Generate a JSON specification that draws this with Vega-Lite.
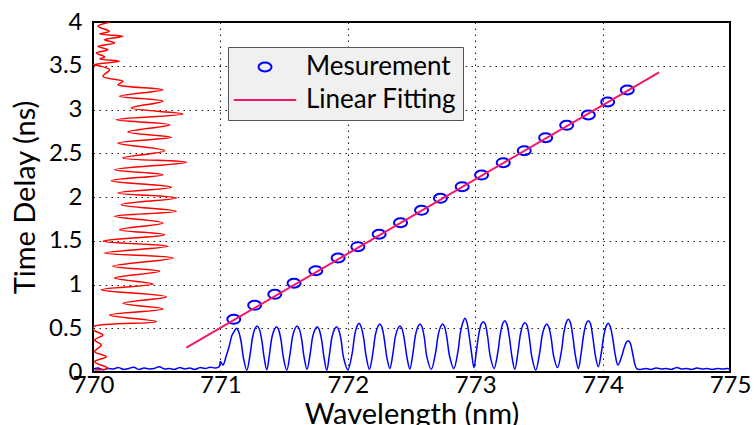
{
  "$schema": "https://vega.github.io/schema/vega-lite/v6.json",
  "width": 637,
  "height": 350,
  "autosize": {"type": "none"},
  "padding": {"left": 93, "top": 22, "right": 24, "bottom": 53},
  "background": "white",
  "config": {
    "font": "Lato",
    "view": {"stroke": "#000", "strokeWidth": 2},
    "axis": {
      "domain": false, "ticks": false, "grid": true,
      "gridColor": "#000", "gridDash": [1.5, 4.5], "gridWidth": 1, "gridOpacity": 0.9,
      "labelFont": "Lato", "labelFontSize": 24, "labelColor": "#000", "labelFlush": false,
      "titleFont": "Lato", "titleFontSize": 29, "titleFontWeight": "normal", "titleColor": "#000"
    }
  },
  "datasets": {
    "spec": [
      {"wl": 770.00, "td": 0.03}, {"wl": 770.04, "td": 0.045}, {"wl": 770.08, "td": 0.025}, {"wl": 770.12, "td": 0.04},
      {"wl": 770.16, "td": 0.035}, {"wl": 770.20, "td": 0.05}, {"wl": 770.24, "td": 0.03}, {"wl": 770.28, "td": 0.04},
      {"wl": 770.32, "td": 0.055}, {"wl": 770.36, "td": 0.03}, {"wl": 770.40, "td": 0.045}, {"wl": 770.44, "td": 0.035},
      {"wl": 770.48, "td": 0.04}, {"wl": 770.52, "td": 0.06}, {"wl": 770.56, "td": 0.035}, {"wl": 770.60, "td": 0.04},
      {"wl": 770.64, "td": 0.03}, {"wl": 770.68, "td": 0.05}, {"wl": 770.72, "td": 0.035}, {"wl": 770.76, "td": 0.045},
      {"wl": 770.80, "td": 0.03}, {"wl": 770.84, "td": 0.05}, {"wl": 770.88, "td": 0.04}, {"wl": 770.92, "td": 0.055},
      {"wl": 770.96, "td": 0.045}, {"wl": 770.99, "td": 0.06},
      {"wl": 771.00, "td": 0.12}, {"wl": 771.02, "td": 0.08}, {"wl": 771.045, "td": 0.18}, {"wl": 771.07, "td": 0.30},
      {"wl": 771.091, "td": 0.42}, {"wl": 771.111, "td": 0.47}, {"wl": 771.126, "td": 0.50}, {"wl": 771.141, "td": 0.47},
      {"wl": 771.161, "td": 0.36}, {"wl": 771.181, "td": 0.16}, {"wl": 771.207, "td": 0.02},
      {"wl": 771.233, "td": 0.20}, {"wl": 771.253, "td": 0.40}, {"wl": 771.273, "td": 0.50}, {"wl": 771.288, "td": 0.526},
      {"wl": 771.303, "td": 0.50}, {"wl": 771.323, "td": 0.38}, {"wl": 771.343, "td": 0.17}, {"wl": 771.364, "td": 0.025},
      {"wl": 771.385, "td": 0.20}, {"wl": 771.405, "td": 0.40}, {"wl": 771.425, "td": 0.49}, {"wl": 771.44, "td": 0.518},
      {"wl": 771.455, "td": 0.49}, {"wl": 771.475, "td": 0.37}, {"wl": 771.495, "td": 0.16}, {"wl": 771.521, "td": 0.02},
      {"wl": 771.547, "td": 0.21}, {"wl": 771.567, "td": 0.41}, {"wl": 771.587, "td": 0.50}, {"wl": 771.602, "td": 0.526},
      {"wl": 771.617, "td": 0.50}, {"wl": 771.637, "td": 0.38}, {"wl": 771.657, "td": 0.17}, {"wl": 771.68, "td": 0.03},
      {"wl": 771.704, "td": 0.20}, {"wl": 771.724, "td": 0.40}, {"wl": 771.744, "td": 0.49}, {"wl": 771.759, "td": 0.518},
      {"wl": 771.774, "td": 0.49}, {"wl": 771.794, "td": 0.37}, {"wl": 771.814, "td": 0.16}, {"wl": 771.835, "td": 0.02},
      {"wl": 771.856, "td": 0.20}, {"wl": 771.876, "td": 0.40}, {"wl": 771.896, "td": 0.49}, {"wl": 771.911, "td": 0.518},
      {"wl": 771.926, "td": 0.49}, {"wl": 771.946, "td": 0.38}, {"wl": 771.966, "td": 0.17}, {"wl": 772.000, "td": 0.025},
      {"wl": 772.034, "td": 0.21}, {"wl": 772.054, "td": 0.42}, {"wl": 772.074, "td": 0.53}, {"wl": 772.089, "td": 0.556},
      {"wl": 772.104, "td": 0.52}, {"wl": 772.124, "td": 0.39}, {"wl": 772.144, "td": 0.18}, {"wl": 772.17, "td": 0.03},
      {"wl": 772.196, "td": 0.21}, {"wl": 772.216, "td": 0.42}, {"wl": 772.236, "td": 0.52}, {"wl": 772.251, "td": 0.549},
      {"wl": 772.266, "td": 0.52}, {"wl": 772.286, "td": 0.38}, {"wl": 772.306, "td": 0.17}, {"wl": 772.33, "td": 0.04},
      {"wl": 772.354, "td": 0.21}, {"wl": 772.374, "td": 0.41}, {"wl": 772.394, "td": 0.50}, {"wl": 772.409, "td": 0.526},
      {"wl": 772.424, "td": 0.50}, {"wl": 772.444, "td": 0.37}, {"wl": 772.464, "td": 0.17}, {"wl": 772.487, "td": 0.035},
      {"wl": 772.511, "td": 0.21}, {"wl": 772.531, "td": 0.42}, {"wl": 772.551, "td": 0.52}, {"wl": 772.566, "td": 0.549},
      {"wl": 772.581, "td": 0.52}, {"wl": 772.601, "td": 0.39}, {"wl": 772.621, "td": 0.17}, {"wl": 772.655, "td": 0.03},
      {"wl": 772.689, "td": 0.22}, {"wl": 772.709, "td": 0.42}, {"wl": 772.729, "td": 0.52}, {"wl": 772.744, "td": 0.549},
      {"wl": 772.759, "td": 0.52}, {"wl": 772.779, "td": 0.38}, {"wl": 772.799, "td": 0.18}, {"wl": 772.832, "td": 0.04},
      {"wl": 772.864, "td": 0.23}, {"wl": 772.884, "td": 0.45}, {"wl": 772.904, "td": 0.57}, {"wl": 772.919, "td": 0.613},
      {"wl": 772.934, "td": 0.57}, {"wl": 772.954, "td": 0.40}, {"wl": 772.974, "td": 0.19}, {"wl": 772.99, "td": 0.05},
      {"wl": 773.008, "td": 0.22}, {"wl": 773.028, "td": 0.43}, {"wl": 773.048, "td": 0.55}, {"wl": 773.063, "td": 0.575},
      {"wl": 773.078, "td": 0.55}, {"wl": 773.098, "td": 0.40}, {"wl": 773.118, "td": 0.18}, {"wl": 773.148, "td": 0.04},
      {"wl": 773.178, "td": 0.23}, {"wl": 773.198, "td": 0.44}, {"wl": 773.218, "td": 0.56}, {"wl": 773.233, "td": 0.587},
      {"wl": 773.248, "td": 0.55}, {"wl": 773.268, "td": 0.40}, {"wl": 773.288, "td": 0.18}, {"wl": 773.311, "td": 0.03},
      {"wl": 773.335, "td": 0.22}, {"wl": 773.355, "td": 0.43}, {"wl": 773.375, "td": 0.54}, {"wl": 773.39, "td": 0.564},
      {"wl": 773.405, "td": 0.54}, {"wl": 773.425, "td": 0.39}, {"wl": 773.445, "td": 0.17}, {"wl": 773.475, "td": 0.02},
      {"wl": 773.506, "td": 0.22}, {"wl": 773.526, "td": 0.42}, {"wl": 773.546, "td": 0.52}, {"wl": 773.561, "td": 0.549},
      {"wl": 773.576, "td": 0.52}, {"wl": 773.596, "td": 0.39}, {"wl": 773.616, "td": 0.18}, {"wl": 773.646, "td": 0.05},
      {"wl": 773.676, "td": 0.23}, {"wl": 773.696, "td": 0.45}, {"wl": 773.716, "td": 0.57}, {"wl": 773.731, "td": 0.602},
      {"wl": 773.746, "td": 0.57}, {"wl": 773.766, "td": 0.41}, {"wl": 773.786, "td": 0.19}, {"wl": 773.81, "td": 0.04},
      {"wl": 773.833, "td": 0.23}, {"wl": 773.853, "td": 0.44}, {"wl": 773.873, "td": 0.56}, {"wl": 773.888, "td": 0.587},
      {"wl": 773.903, "td": 0.56}, {"wl": 773.923, "td": 0.40}, {"wl": 773.943, "td": 0.19}, {"wl": 773.966, "td": 0.06},
      {"wl": 773.990, "td": 0.22}, {"wl": 774.010, "td": 0.42}, {"wl": 774.030, "td": 0.53}, {"wl": 774.045, "td": 0.556},
      {"wl": 774.060, "td": 0.52}, {"wl": 774.080, "td": 0.38}, {"wl": 774.100, "td": 0.19}, {"wl": 774.12, "td": 0.08},
      {"wl": 774.150, "td": 0.18}, {"wl": 774.170, "td": 0.28}, {"wl": 774.187, "td": 0.34}, {"wl": 774.202, "td": 0.358},
      {"wl": 774.217, "td": 0.33}, {"wl": 774.235, "td": 0.22}, {"wl": 774.255, "td": 0.08}, {"wl": 774.27, "td": 0.035},
      {"wl": 774.30, "td": 0.03}, {"wl": 774.34, "td": 0.04}, {"wl": 774.38, "td": 0.03}, {"wl": 774.42, "td": 0.045},
      {"wl": 774.46, "td": 0.035}, {"wl": 774.50, "td": 0.04}, {"wl": 774.54, "td": 0.03}, {"wl": 774.58, "td": 0.05},
      {"wl": 774.62, "td": 0.035}, {"wl": 774.66, "td": 0.04}, {"wl": 774.70, "td": 0.03}, {"wl": 774.74, "td": 0.045},
      {"wl": 774.78, "td": 0.035}, {"wl": 774.82, "td": 0.04}, {"wl": 774.86, "td": 0.03}, {"wl": 774.90, "td": 0.04},
      {"wl": 774.94, "td": 0.035}, {"wl": 774.98, "td": 0.04}, {"wl": 775.0, "td": 0.035}
    ],
    "pulse": [
      {"i": 1, "wl": 770.013, "td": 0.023}, {"i": 2, "wl": 770.117, "td": 0.042}, {"i": 3, "wl": 770.013, "td": 0.118},
      {"i": 4, "wl": 770.104, "td": 0.175}, {"i": 5, "wl": 770.013, "td": 0.232}, {"i": 6, "wl": 770.065, "td": 0.309},
      {"i": 7, "wl": 770.013, "td": 0.366}, {"i": 8, "wl": 770.078, "td": 0.423}, {"i": 9, "wl": 770.005, "td": 0.48},
      {"i": 10, "wl": 770.001, "td": 0.518}, {"i": 11, "wl": 770.497, "td": 0.575}, {"i": 12, "wl": 770.130, "td": 0.651},
      {"i": 13, "wl": 770.549, "td": 0.72}, {"i": 14, "wl": 770.235, "td": 0.785}, {"i": 15, "wl": 770.576, "td": 0.861},
      {"i": 16, "wl": 770.065, "td": 0.941}, {"i": 17, "wl": 770.471, "td": 1.006}, {"i": 18, "wl": 770.170, "td": 1.074},
      {"i": 19, "wl": 770.523, "td": 1.151}, {"i": 20, "wl": 770.156, "td": 1.208}, {"i": 21, "wl": 770.628, "td": 1.303},
      {"i": 22, "wl": 770.091, "td": 1.36}, {"i": 23, "wl": 770.588, "td": 1.437}, {"i": 24, "wl": 770.078, "td": 1.494},
      {"i": 25, "wl": 770.562, "td": 1.569}, {"i": 26, "wl": 770.209, "td": 1.626}, {"i": 27, "wl": 770.549, "td": 1.703},
      {"i": 28, "wl": 770.170, "td": 1.779}, {"i": 29, "wl": 770.654, "td": 1.837}, {"i": 30, "wl": 770.222, "td": 1.912},
      {"i": 31, "wl": 770.654, "td": 1.989}, {"i": 32, "wl": 770.196, "td": 2.046}, {"i": 33, "wl": 770.615, "td": 2.111},
      {"i": 34, "wl": 770.144, "td": 2.186}, {"i": 35, "wl": 770.549, "td": 2.255}, {"i": 36, "wl": 770.170, "td": 2.312},
      {"i": 37, "wl": 770.733, "td": 2.397}, {"i": 38, "wl": 770.235, "td": 2.446}, {"i": 39, "wl": 770.562, "td": 2.529},
      {"i": 40, "wl": 770.196, "td": 2.617}, {"i": 41, "wl": 770.615, "td": 2.682}, {"i": 42, "wl": 770.274, "td": 2.743},
      {"i": 43, "wl": 770.602, "td": 2.826}, {"i": 44, "wl": 770.183, "td": 2.883}, {"i": 45, "wl": 770.706, "td": 2.949},
      {"i": 46, "wl": 770.301, "td": 3.017}, {"i": 47, "wl": 770.549, "td": 3.094}, {"i": 48, "wl": 770.209, "td": 3.151},
      {"i": 49, "wl": 770.549, "td": 3.226}, {"i": 50, "wl": 770.196, "td": 3.283}, {"i": 51, "wl": 770.235, "td": 3.322},
      {"i": 52, "wl": 770.078, "td": 3.379}, {"i": 53, "wl": 770.130, "td": 3.455}, {"i": 54, "wl": 770.052, "td": 3.497},
      {"i": 55, "wl": 770.0, "td": 3.512}, {"i": 56, "wl": 770.209, "td": 3.551}, {"i": 57, "wl": 770.052, "td": 3.577},
      {"i": 58, "wl": 770.091, "td": 3.6}, {"i": 59, "wl": 770.026, "td": 3.646}, {"i": 60, "wl": 770.117, "td": 3.683},
      {"i": 61, "wl": 770.038, "td": 3.722}, {"i": 62, "wl": 770.170, "td": 3.76}, {"i": 63, "wl": 770.091, "td": 3.798},
      {"i": 64, "wl": 770.235, "td": 3.837}, {"i": 65, "wl": 770.052, "td": 3.863}, {"i": 66, "wl": 770.130, "td": 3.894},
      {"i": 67, "wl": 770.038, "td": 3.951}, {"i": 68, "wl": 770.135, "td": 4.0}
    ],
    "meas": [
      {"wl": 771.105, "td": 0.602, "series": "Mesurement"}, {"wl": 771.269, "td": 0.762, "series": "Mesurement"},
      {"wl": 771.427, "td": 0.888, "series": "Mesurement"}, {"wl": 771.578, "td": 1.014, "series": "Mesurement"},
      {"wl": 771.749, "td": 1.158, "series": "Mesurement"}, {"wl": 771.924, "td": 1.303, "series": "Mesurement"},
      {"wl": 772.079, "td": 1.432, "series": "Mesurement"}, {"wl": 772.246, "td": 1.574, "series": "Mesurement"},
      {"wl": 772.414, "td": 1.706, "series": "Mesurement"}, {"wl": 772.579, "td": 1.848, "series": "Mesurement"},
      {"wl": 772.727, "td": 1.985, "series": "Mesurement"}, {"wl": 772.898, "td": 2.118, "series": "Mesurement"},
      {"wl": 773.050, "td": 2.251, "series": "Mesurement"}, {"wl": 773.220, "td": 2.392, "series": "Mesurement"},
      {"wl": 773.385, "td": 2.529, "series": "Mesurement"}, {"wl": 773.553, "td": 2.678, "series": "Mesurement"},
      {"wl": 773.718, "td": 2.819, "series": "Mesurement"}, {"wl": 773.888, "td": 2.937, "series": "Mesurement"},
      {"wl": 774.040, "td": 3.086, "series": "Mesurement"}, {"wl": 774.194, "td": 3.223, "series": "Mesurement"}
    ],
    "fit": [
      {"wl": 770.733, "td": 0.278, "series": "Linear Fitting"},
      {"wl": 774.443, "td": 3.425, "series": "Linear Fitting"}
    ]
  },
  "encoding": {
    "x": {
      "field": "wl", "type": "quantitative",
      "scale": {"domain": [770, 775], "nice": false, "zero": false},
      "axis": {"values": [770, 771, 772, 773, 774, 775], "format": "d", "title": "Wavelength (nm)",
               "labelPadding": 1, "titleY": 51, "titleBaseline": "alphabetic"}
    },
    "y": {
      "field": "td", "type": "quantitative",
      "scale": {"domain": [0, 4], "nice": false},
      "axis": {"values": [0, 0.5, 1, 1.5, 2, 2.5, 3, 3.5, 4], "format": "~g", "title": "Time Delay (ns)",
               "labelPadding": 11, "titleX": -59, "titleBaseline": "alphabetic"}
    }
  },
  "layer": [
    {
      "data": {"name": "spec"},
      "mark": {"type": "line", "color": "#0000ff", "strokeWidth": 1.5, "clip": true, "interpolate": "catmull-rom"},
      "encoding": {}
    },
    {
      "data": {"name": "pulse"},
      "mark": {"type": "line", "color": "#ff0000", "strokeWidth": 1.5, "clip": true, "interpolate": "catmull-rom"},
      "encoding": {"order": {"field": "i", "type": "quantitative"}}
    },
    {
      "data": {"name": "meas"},
      "mark": {"type": "point", "filled": false, "strokeWidth": 2, "size": 169, "opacity": 1},
      "encoding": {
        "color": {
          "field": "series", "type": "nominal",
          "scale": {"domain": ["Mesurement", "Linear Fitting"], "range": ["#0000ff", "#f5166a"]},
          "legend": {"title": null, "orient": "none", "legendX": 135, "legendY": 25,
                     "labelFont": "Lato", "labelFontSize": 26, "labelColor": "#000",
                     "fillColor": "#f0f0f0", "strokeColor": "#555", "padding": 7, "rowPadding": 7,
                     "symbolOffset": 17, "labelOffset": 28, "symbolStrokeWidth": 2, "symbolSize": 169}
        },
        "shape": {
          "field": "series", "type": "nominal",
          "scale": {"domain": ["Mesurement", "Linear Fitting"],
                    "range": ["M-1,0A1,0.69,0,1,1,1,0A1,0.69,0,1,1,-1,0Z", "M-4.8,0L4.8,0"]},
          "legend": {"title": null, "orient": "none", "legendX": 135, "legendY": 25,
                     "labelFont": "Lato", "labelFontSize": 26, "labelColor": "#000",
                     "fillColor": "#f0f0f0", "strokeColor": "#555", "padding": 7, "rowPadding": 7,
                     "symbolOffset": 17, "labelOffset": 28, "symbolStrokeWidth": 2, "symbolSize": 169}
        }
      }
    },
    {
      "data": {"name": "fit"},
      "mark": {"type": "line", "strokeWidth": 2},
      "encoding": {
        "color": {"field": "series", "type": "nominal"}
      }
    }
  ]
}
